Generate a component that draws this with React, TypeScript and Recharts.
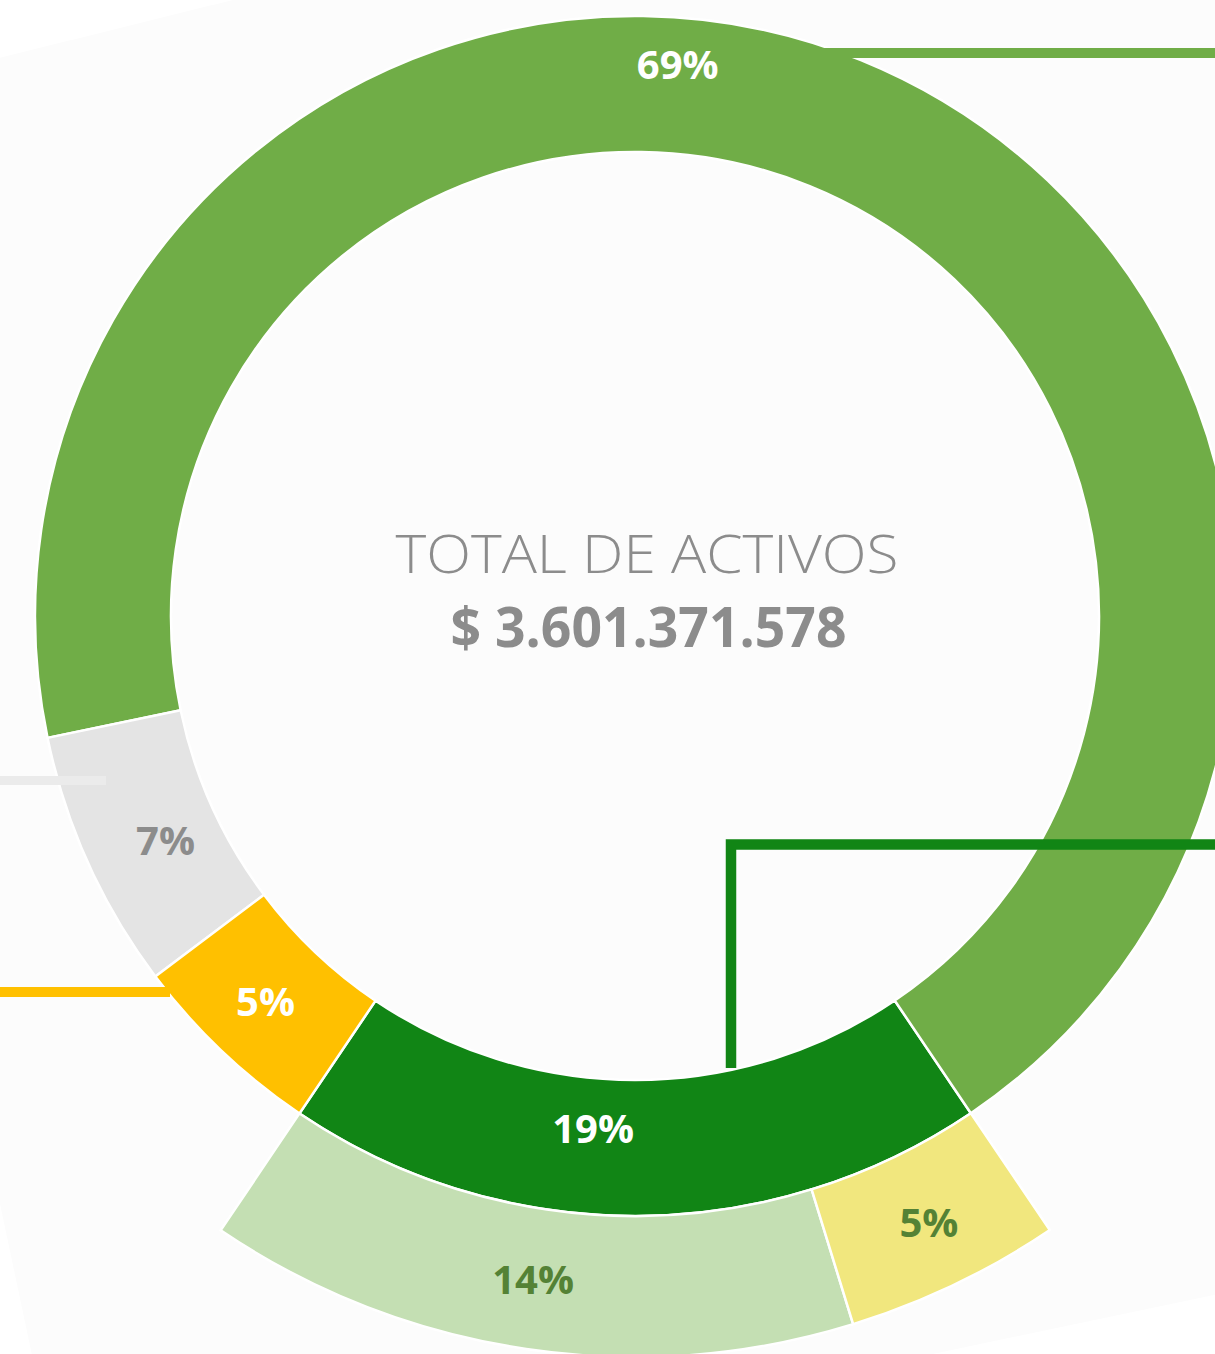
import React from 'react'
import { PieChart, Pie, Cell } from 'recharts'

// main ring: share of total assets (%), labels are rounded
const assetNames = ['Activos fijos', 'Inversiones', 'Otros activos', 'Efectivo']
const assetShares = [18.9, 68.8, 7.0, 5.3]
// outer arc: breakdown of the 19% slice
const subNames = ['Propiedades', 'Equipos']
const subShares = [14.2, 4.7]

const totalTitle = 'TOTAL DE ACTIVOS'
const totalValue = '$ 3.601.371.578'

const assetColors = ['#118515', '#70AD47', '#E4E4E4', '#FFC000']
const assetTextColors = ['#FFFFFF', '#FFFFFF', '#8C8C8C', '#FFFFFF']
const subColors = ['#C4DFB3', '#F1E77E']
const subTextColor = '#548235'

// label nudges (degrees off the slice middle, fraction across the ring)
const assetLabelShift = [-4.7, 17.7, 1.1, -0.3]
const assetLabelRadius = [0.36, 0.66, 0.41, 0.51]

const RAD = Math.PI / 180
const START = 236
const FONT = '"Open Sans", "DejaVu Sans", sans-serif'

const makeLabel = (colors: string[], shift: number[], frac: number[]) => (p: any) => {
  const i = p.index
  const a = p.midAngle + (shift[i] || 0)
  const r = p.innerRadius + (frac[i] ?? 0.5) * (p.outerRadius - p.innerRadius)
  const x = p.cx + r * Math.cos(-a * RAD)
  const y = p.cy + r * Math.sin(-a * RAD)
  return (
    <text
      x={x}
      y={y}
      fill={colors[i] || colors[0]}
      textAnchor="middle"
      dominantBaseline="central"
      fontFamily={FONT}
      fontWeight={700}
      fontSize={40}
    >
      {`${Math.round(p.value)}%`}
    </text>
  )
}

export default function App() {
  const mainData = assetNames.map((n, i) => ({ name: n, value: assetShares[i] }))
  const subData = subNames.map((n, i) => ({ name: n, value: subShares[i] }))
  const subSpan = (subShares.reduce((s, v) => s + v, 0) / assetShares.reduce((s, v) => s + v, 0)) * 360

  return (
    <div style={{ position: 'absolute', left: 0, top: 0, width: 1215, height: 1354, background: '#fff', overflow: 'hidden' }}>
      <svg width={1215} height={1354} style={{ position: 'absolute', left: 0, top: 0 }}>
        <polygon points="-230,115 1500,-315 1500,1235 70,1535" fill="#FCFCFC" />
      </svg>
      <div style={{ position: 'absolute', left: 0, top: 0 }}>
        <PieChart width={1215} height={1354} margin={{ top: 0, right: 0, bottom: 0, left: 0 }}>
          <Pie
            data={mainData}
            dataKey="value"
            cx={635}
            cy={616}
            innerRadius={464}
            outerRadius={600}
            startAngle={START}
            endAngle={START + 360}
            stroke="#FFFFFF"
            strokeWidth={2.5}
            labelLine={false}
            label={makeLabel(assetTextColors, assetLabelShift, assetLabelRadius)}
            isAnimationActive={false}
          >
            {mainData.map((d, i) => (
              <Cell key={d.name} fill={assetColors[i]} />
            ))}
          </Pie>
          <Pie
            data={subData}
            dataKey="value"
            cx={635}
            cy={616}
            innerRadius={600}
            outerRadius={741}
            startAngle={START}
            endAngle={START + subSpan}
            stroke="#FFFFFF"
            strokeWidth={2.5}
            labelLine={false}
            label={makeLabel([subTextColor], [-0.3, 0.3], [0.5, 0.52])}
            isAnimationActive={false}
          >
            {subData.map((d, i) => (
              <Cell key={d.name} fill={subColors[i]} />
            ))}
          </Pie>
        </PieChart>
      </div>
      <svg width={1215} height={1354} style={{ position: 'absolute', left: 0, top: 0, pointerEvents: 'none' }}>
        {/* leader lines */}
        <line x1={741} y1={53} x2={1215} y2={53} stroke="#70AD47" strokeWidth={10} />
        <polyline points="731,1068 731,844.5 1215,844.5" fill="none" stroke="#118515" strokeWidth={10.5} />
        <line x1={0} y1={780.5} x2={106} y2={780.5} stroke="#EBEBEB" strokeWidth={9} />
        <line x1={0} y1={992} x2={170} y2={992} stroke="#FFC000" strokeWidth={10} />
        <text x={647} y={573} textAnchor="middle" fill="#8C8C8C" fontFamily={FONT} fontWeight={300} fontSize={53} textLength={503} lengthAdjust="spacingAndGlyphs">
          {totalTitle}
        </text>
        <text x={648.5} y={647} textAnchor="middle" fill="#8C8C8C" fontFamily={FONT} fontWeight={700} fontSize={55} textLength={396} lengthAdjust="spacingAndGlyphs">
          {totalValue}
        </text>
      </svg>
    </div>
  )
}
